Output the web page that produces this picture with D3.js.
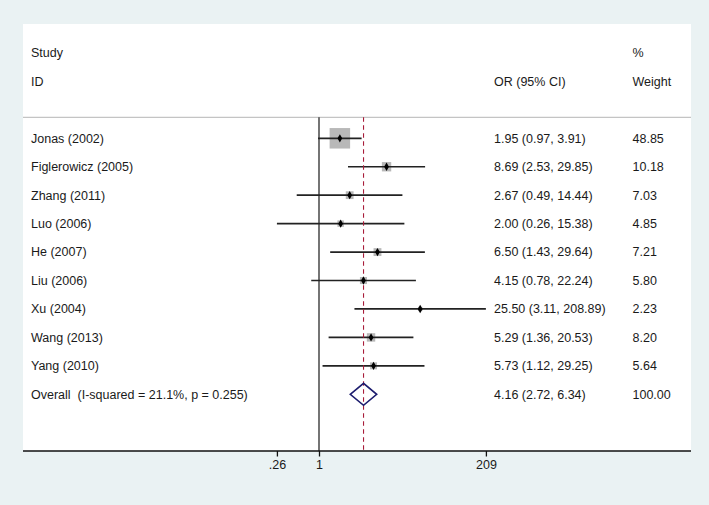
<!DOCTYPE html>
<html><head><meta charset="utf-8">
<script src="https://cdn.jsdelivr.net/npm/d3@7"></script>
<style>
html,body{margin:0;padding:0;background:#eaf2f3;}
svg{display:block;}
text{font-family:"Liberation Sans",Arial,Helvetica,sans-serif;font-size:12.5px;fill:#1a1a1a;white-space:pre;}
</style></head>
<body>
<svg id="c" width="709" height="505"></svg>
<script>
const studies = ["Jonas (2002)","Figlerowicz (2005)","Zhang (2011)","Luo (2006)","He (2007)","Liu (2006)","Xu (2004)","Wang (2013)","Yang (2010)"];
const orValues = [1.95,8.69,2.67,2.00,6.50,4.15,25.50,5.29,5.73];
const ciLow = [0.97,2.53,0.49,0.26,1.43,0.78,3.11,1.36,1.12];
const ciHigh = [3.91,29.85,14.44,15.38,29.64,22.24,208.89,20.53,29.25];
const weights = [48.85,10.18,7.03,4.85,7.21,5.80,2.23,8.20,5.64];
const overallLabel = "Overall  (I-squared = 21.1%, p = 0.255)";
const overall = {or:4.16, lo:2.72, hi:6.34, w:100.00};
const tickValues = [0.26, 1, 209];
const tickLabels = [".26", "1", "209"];

const svg = d3.select("#c");
const W = 709, H = 505;
const panel = {left:23, right:691, top:24, bottom:451};

svg.append("rect").attr("width",W).attr("height",H).attr("fill","#eaf2f3");
svg.append("rect").attr("x",panel.left).attr("y",panel.top)
  .attr("width",panel.right-panel.left).attr("height",panel.bottom-panel.top).attr("fill","#ffffff");

const x = d3.scaleLog().domain([1/209, 209]).range([152.1, 485.9]);
const rows = studies.concat([overallLabel]);
const y = d3.scalePoint().domain(rows).range([138.3, 394.3]);
const size = d3.scaleSqrt().domain([0, 48.85]).range([0, 20.5]);

const topY = 117.3;
// header
const hdr = svg.append("g");
hdr.append("text").attr("x",31).attr("y",53).attr("dy","0.35em").text("Study");
hdr.append("text").attr("x",31).attr("y",81.7).attr("dy","0.35em").text("ID");
hdr.append("text").attr("x",494).attr("y",81.7).attr("dy","0.35em").text("OR (95% CI)");
hdr.append("text").attr("x",632.5).attr("y",53).attr("dy","0.35em").text("%");
hdr.append("text").attr("x",632.5).attr("y",81.7).attr("dy","0.35em").text("Weight");

svg.append("line").attr("x1",panel.left).attr("x2",panel.right).attr("y1",topY).attr("y2",topY)
  .attr("stroke","#c4c4c4").attr("stroke-width",1.2);

// boxes
const data = studies.map((s,i)=>({s, or:orValues[i], lo:ciLow[i], hi:ciHigh[i], w:weights[i]}));
svg.append("g").selectAll("rect").data(data).join("rect")
  .attr("x",d=>x(d.or)-size(d.w)/2).attr("y",d=>y(d.s)-size(d.w)/2)
  .attr("width",d=>size(d.w)).attr("height",d=>size(d.w))
  .attr("fill","#b8b8b8");

// null line
svg.append("line").attr("x1",x(1)).attr("x2",x(1)).attr("y1",topY).attr("y2",panel.bottom)
  .attr("stroke","#3a3a3a").attr("stroke-width",1.4);

// CI lines
svg.append("g").selectAll("line").data(data).join("line")
  .attr("x1",d=>x(d.lo)).attr("x2",d=>x(d.hi)).attr("y1",d=>y(d.s)).attr("y2",d=>y(d.s))
  .attr("stroke","#222").attr("stroke-width",1.7);

// dashed overall line
svg.append("line").attr("x1",x(overall.or)).attr("x2",x(overall.or)).attr("y1",topY).attr("y2",panel.bottom)
  .attr("stroke","#a81c3a").attr("stroke-width",1.1).attr("stroke-dasharray","4.5,3.5");

// point markers
svg.append("g").selectAll("path").data(data).join("path")
  .attr("transform",d=>`translate(${x(d.or)},${y(d.s)})`)
  .attr("d",d3.symbol().type(d3.symbolDiamond).size(20))
  .attr("fill","#000");

// overall diamond
const oy = y(overallLabel), hh = 11;
svg.append("path")
  .attr("d",`M${x(overall.lo)},${oy}L${x(overall.or)},${oy-hh}L${x(overall.hi)},${oy}L${x(overall.or)},${oy+hh}Z`)
  .attr("fill","none").attr("stroke","#1c1c6e").attr("stroke-width",1.6);

// text columns
const fmt = v=>v.toFixed(2);
const g = svg.append("g");
g.selectAll("text.lab").data(data).join("text").attr("class","lab")
  .attr("x",31).attr("y",d=>y(d.s)).attr("dy","0.35em").text(d=>d.s);
g.selectAll("text.ci").data(data).join("text").attr("class","ci")
  .attr("x",494).attr("y",d=>y(d.s)).attr("dy","0.35em").text(d=>`${fmt(d.or)} (${fmt(d.lo)}, ${fmt(d.hi)})`);
g.selectAll("text.wt").data(data).join("text").attr("class","wt")
  .attr("x",632.5).attr("y",d=>y(d.s)).attr("dy","0.35em").text(d=>fmt(d.w));
g.append("text").attr("x",31).attr("y",oy).attr("dy","0.35em").attr("xml:space","preserve").text(overallLabel);
g.append("text").attr("x",494).attr("y",oy).attr("dy","0.35em").text(`${fmt(overall.or)} (${fmt(overall.lo)}, ${fmt(overall.hi)})`);
g.append("text").attr("x",632.5).attr("y",oy).attr("dy","0.35em").text(fmt(overall.w));

// axis
svg.append("line").attr("x1",panel.left).attr("x2",panel.right).attr("y1",panel.bottom).attr("y2",panel.bottom)
  .attr("stroke","#111").attr("stroke-width",1.4);
const axis = d3.axisBottom(x).tickValues(tickValues).tickSize(5.5).tickPadding(4)
  .tickFormat((d,i)=>tickLabels[i]);
const ag = svg.append("g").attr("transform",`translate(0,${panel.bottom})`).call(axis);
ag.select(".domain").remove();
ag.selectAll(".tick line").attr("stroke","#111").attr("stroke-width",1.3);
ag.selectAll(".tick text").attr("font-size",12.5).attr("font-family","Liberation Sans, Arial, sans-serif").attr("fill","#1a1a1a");
</script>
</body></html>
